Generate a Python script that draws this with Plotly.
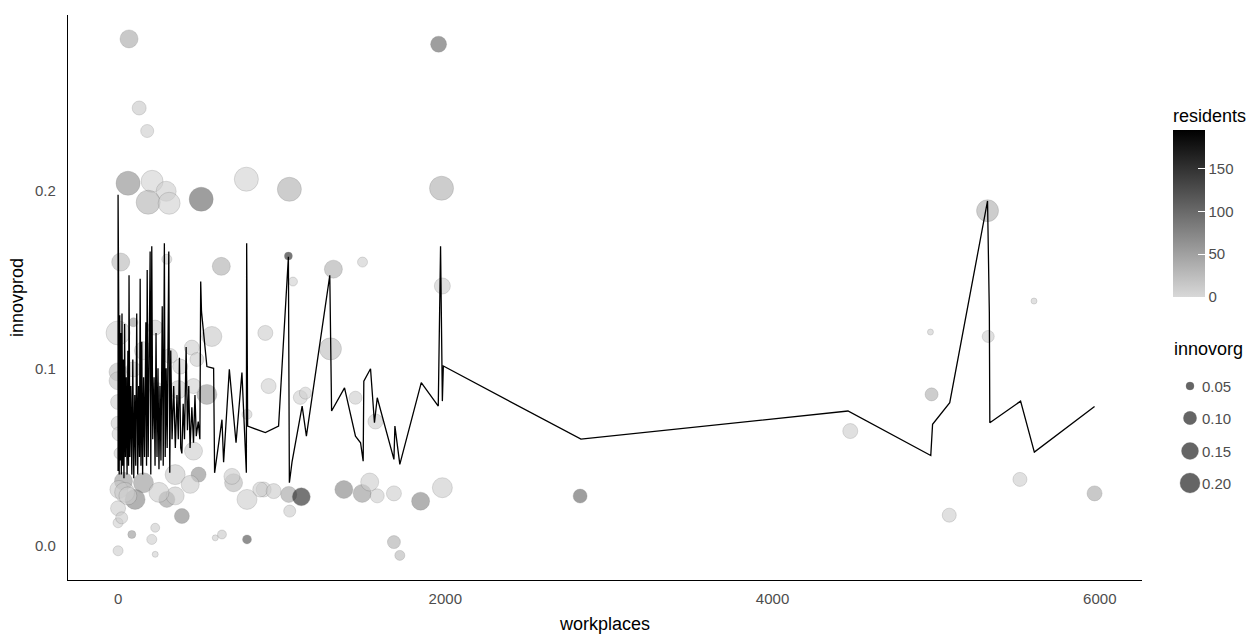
import numpy as np
import plotly.graph_objects as go

# ---------------- data ----------------
workplaces = [67, 1959, 129, 178, 61, 208, 294, 184, 312, 508, 784, 1047, 1977,
              16, 298, 631, 1041, 1316, 1494, 1982, 1069,
              0, 94, 227, 573, 900, 1298, 451, 318, 155, 0, 0, 94, 380, 482, 920, 543,
              1451, 369, 461, 237, 1114, 1145, 0, 788, 1573, 0, 6, 12, 461,
              33, 155, 104, 5, 0, 0, 22, 349, 492, 441, 298, 349, 390, 84, 227, 206, 0,
              227, 635, 594, 788, 706, 696, 788, 890, 869, 951, 1043, 1120, 1049, 1380,
              1492, 1538, 1584, 1686, 1849, 1982, 1686, 1722, 40, 60, 250,
              5314, 5598, 4965, 5318, 4972, 4475, 5512, 5968, 5080, 2824]
innovprod = [0.286, 0.283, 0.247, 0.234, 0.2045, 0.2056, 0.200, 0.1938, 0.1932, 0.1955, 0.2068, 0.2011, 0.2017,
             0.160, 0.1616, 0.1576, 0.1634, 0.156, 0.160, 0.1465, 0.149,
             0.120, 0.126, 0.123, 0.118, 0.120, 0.111, 0.1117, 0.107, 0.110, 0.098, 0.093, 0.0994, 0.101, 0.105, 0.090, 0.0853,
             0.0834, 0.088, 0.090, 0.088, 0.0836, 0.086, 0.081, 0.074, 0.070, 0.069, 0.063, 0.052, 0.0533,
             0.0363, 0.0354, 0.026, 0.0316, 0.021, 0.0128, 0.0156, 0.040, 0.040, 0.0345, 0.026, 0.028, 0.0166, 0.0062, 0.010, 0.0034, -0.003,
             -0.005, 0.0062, 0.0043, 0.0034, 0.0354, 0.039, 0.026, 0.0316, 0.0316, 0.0307, 0.0288, 0.0275, 0.0194, 0.0316,
             0.0294, 0.0358, 0.028, 0.0294, 0.025, 0.0326, 0.0019, -0.0056, 0.030, 0.028, 0.030,
             0.189, 0.138, 0.1205, 0.118, 0.0853, 0.0646, 0.0373, 0.0294, 0.0171, 0.0279]
residents = [45, 110, 15, 10, 70, 5, 10, 35, 8, 110, 5, 40, 40,
             30, 10, 40, 170, 40, 10, 12, 8,
             5, 60, 12, 15, 10, 25, 10, 10, 10, 25, 20, 10, 10, 10, 8, 60,
             10, 12, 8, 10, 8, 8, 10, 10, 10, 10, 8, 8, 10,
             60, 60, 80, 12, 10, 8, 12, 15, 70, 12, 60, 15, 80, 60, 12, 10, 10,
             8, 15, 10, 130, 30, 12, 10, 10, 10, 12, 50, 170, 12, 80,
             60, 10, 10, 10, 80, 12, 40, 30, 15, 10, 12,
             40, 10, 10, 10, 40, 10, 10, 45, 10, 110]
innovorg = [0.166, 0.136, 0.109, 0.097, 0.279, 0.237, 0.20, 0.279, 0.237, 0.279, 0.279, 0.279, 0.279,
            0.166, 0.066, 0.166, 0.05, 0.166, 0.066, 0.136, 0.057,
            0.279, 0.057, 0.122, 0.20, 0.122, 0.237, 0.122, 0.122, 0.166, 0.166, 0.166, 0.122, 0.122, 0.109, 0.122, 0.20,
            0.097, 0.166, 0.122, 0.109, 0.109, 0.086, 0.122, 0.066, 0.122, 0.109, 0.109, 0.086, 0.166,
            0.166, 0.20, 0.20, 0.166, 0.122, 0.066, 0.086, 0.20, 0.122, 0.166, 0.136, 0.166, 0.122, 0.05, 0.057, 0.066, 0.066,
            0.0375, 0.057, 0.0375, 0.057, 0.166, 0.136, 0.20, 0.122, 0.122, 0.122, 0.136, 0.166, 0.086, 0.166,
            0.166, 0.166, 0.109, 0.122, 0.166, 0.20, 0.097, 0.066, 0.20, 0.166, 0.20,
            0.237, 0.0375, 0.0375, 0.086, 0.097, 0.122, 0.109, 0.122, 0.109, 0.109]

# line (path sorted by workplaces)
line_x = [0, 0, 2, 4, 7, 10, 13, 17, 20, 24, 28, 32, 36, 40, 45, 50, 55, 60, 64, 67, 72, 78, 84, 90, 96,
          102, 108, 114, 120, 126, 131, 135, 140, 145, 150, 156, 162, 170, 174, 178, 184, 190, 196, 200,
          206, 212, 220, 226, 232, 238, 244, 250, 256, 262, 270, 276, 283, 288, 294, 300, 310, 316, 322,
          330, 340, 350, 360, 368, 375, 383, 390, 398, 406, 416, 424, 432, 440, 451, 461, 470, 478, 490,
          500, 505, 510, 543, 584, 590, 635, 645, 680, 721, 757, 784, 786, 792, 900, 981, 1041, 1047,
          1063, 1125, 1151, 1294, 1305, 1384, 1451, 1482, 1498, 1502, 1543, 1567, 1584, 1686, 1692, 1722,
          1853, 1957, 1971, 1982, 1988, 2829, 4461, 4967, 4978, 5083, 5314, 5325, 5328, 5516, 5600, 5968]
line_y = [0.042, 0.198, 0.05, 0.137, 0.04, 0.13, 0.048, 0.12, 0.04, 0.131, 0.045, 0.105, 0.038, 0.125, 0.05,
          0.095, 0.04, 0.11, 0.045, 0.1525, 0.05, 0.09, 0.04, 0.105, 0.038, 0.085, 0.045, 0.131, 0.04, 0.09,
          0.05, 0.1506, 0.045, 0.115, 0.04, 0.095, 0.05, 0.126, 0.045, 0.1555, 0.05, 0.1, 0.166, 0.04,
          0.169, 0.06, 0.095, 0.045, 0.12, 0.05, 0.1, 0.043, 0.09, 0.048, 0.135, 0.045, 0.1706, 0.05, 0.1,
          0.055, 0.166, 0.041, 0.11, 0.06, 0.09, 0.055, 0.085, 0.06, 0.106, 0.055, 0.052, 0.08, 0.06, 0.112,
          0.065, 0.09, 0.055, 0.078, 0.058, 0.085, 0.0617, 0.07, 0.06, 0.149, 0.132, 0.101, 0.100, 0.041,
          0.071, 0.047, 0.0994, 0.058, 0.0976, 0.041, 0.1706, 0.0674, 0.0637, 0.0674, 0.163, 0.0354, 0.047,
          0.0787, 0.0617, 0.1525, 0.0759, 0.089, 0.0617, 0.058, 0.0476, 0.0928, 0.0998, 0.0693, 0.0834,
          0.0486, 0.0674, 0.0458, 0.0919, 0.0787, 0.169, 0.0815, 0.1013, 0.060, 0.0759, 0.0508, 0.0684,
          0.0806, 0.1945, 0.1315, 0.0693, 0.0815, 0.0527, 0.0784]

x_ticks = [0, 2000, 4000, 6000]
y_ticks = [0.0, 0.1, 0.2]
y_tick_labels = ["0.0", "0.1", "0.2"]
res_ticks = [0, 50, 100, 150]
org_legend = [0.05, 0.10, 0.15, 0.20]
org_legend_labels = ["0.05", "0.10", "0.15", "0.20"]

# ---------------- styling helpers ----------------
def org_to_px(v):
    v = np.asarray(v, dtype=float)
    return np.sqrt(np.maximum(2240 * v - 48, 16))

FONT = "Liberation Sans, Arial, sans-serif"
TICK_SIZE = 15
TITLE_SIZE = 18
W, H = 1257, 637
ML, MR, MT, MB = 68, 0, 15, 57
plot_right = 1142
dom_right = (plot_right - ML) / (W - ML - MR)
PH = 580 - 15

gray_scale = [[0, "#d8d8d8"], [0.5, "#6c6c6c"], [1, "#000000"]]

fig = go.Figure()

fig.add_trace(go.Scatter(
    x=workplaces, y=innovprod, mode="markers",
    marker=dict(
        size=org_to_px(innovorg), color=residents, colorscale=gray_scale,
        cmin=0, cmax=195, opacity=0.6,
        line=dict(width=0.8, color="rgba(60,60,60,0.35)"),
        showscale=True,
        colorbar=dict(
            title=dict(text="residents", side="top",
                       font=dict(size=TITLE_SIZE, color="#000", family=FONT)),
            x=(1173 - ML) / (W - ML - MR), xanchor="left", xref="paper", xpad=0,
            y=(580 - 297) / PH, yanchor="bottom", ypad=0,
            len=192, lenmode="pixels", thickness=32, thicknessmode="pixels",
            outlinewidth=0, tickvals=res_ticks, ticks="inside", ticklen=7,
            tickcolor="white", tickwidth=1,
            tickfont=dict(size=TICK_SIZE, color="#4d4d4d", family=FONT),
        ),
    ),
    showlegend=False, hoverinfo="skip",
))

fig.add_trace(go.Scatter(
    x=line_x, y=line_y, mode="lines",
    line=dict(color="black", width=1.3),
    showlegend=False, hoverinfo="skip",
))

# size legend drawn on an overlay axis measured in pixels
leg_y = [386, 418, 451, 483]
fig.add_trace(go.Scatter(
    x=[1190] * len(org_legend), y=leg_y, mode="markers",
    marker=dict(size=org_to_px(org_legend), color="black", opacity=0.6,
                line=dict(width=0.8, color="rgba(0,0,0,0.35)")),
    xaxis="x2", yaxis="y2", showlegend=False, hoverinfo="skip", cliponaxis=False,
))

annotations = [dict(text="innovorg", x=1172, y=349, xref="x2", yref="y2",
                    xanchor="left", yanchor="middle", showarrow=False,
                    font=dict(size=TITLE_SIZE, color="#000", family=FONT))]
for lab, yy in zip(org_legend_labels, leg_y):
    annotations.append(dict(text=lab, x=1200, y=yy, xref="x2", yref="y2",
                            xanchor="left", yanchor="middle", showarrow=False,
                            font=dict(size=TICK_SIZE, color="#4d4d4d", family=FONT)))

fig.update_layout(
    width=W, height=H,
    margin=dict(l=ML, r=MR, t=MT, b=MB),
    paper_bgcolor="white", plot_bgcolor="white",
    font=dict(family=FONT, color="#000"),
    showlegend=False,
    xaxis=dict(
        domain=[0, dom_right], range=[-306, 6258], tickvals=x_ticks,
        showgrid=False, zeroline=False, showline=True, linecolor="black", linewidth=1.2,
        ticks="", ticklabelstandoff=5,
        tickfont=dict(size=TICK_SIZE, color="#4d4d4d", family=FONT),
        title=dict(text="workplaces", font=dict(size=TITLE_SIZE, color="#000", family=FONT), standoff=11),
    ),
    yaxis=dict(
        range=[-0.0195, 0.2995], tickvals=y_ticks, ticktext=y_tick_labels,
        showgrid=False, zeroline=False, showline=True, linecolor="black", linewidth=1.2,
        ticks="", ticklabelstandoff=8,
        tickfont=dict(size=TICK_SIZE, color="#4d4d4d", family=FONT),
        title=dict(text="innovprod", font=dict(size=TITLE_SIZE, color="#000", family=FONT), standoff=6),
    ),
    xaxis2=dict(domain=[dom_right, 1], range=[plot_right, W], visible=False, fixedrange=True),
    yaxis2=dict(domain=[0, 1], range=[580, 15], visible=False, fixedrange=True, anchor="x2"),
    annotations=annotations,
)

fig.write_html("out.html")
